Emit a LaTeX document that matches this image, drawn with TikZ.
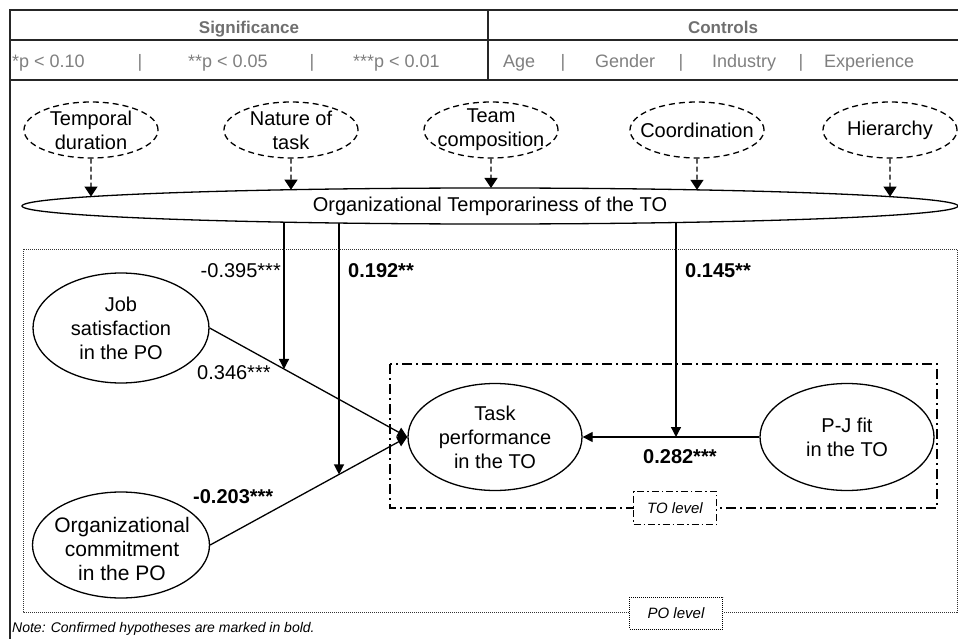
\documentclass[tikz,border=0pt]{standalone}
\usepackage{fontspec}
\setmainfont{Liberation Sans}
\usetikzlibrary{arrows.meta,shapes.geometric,intersections,backgrounds,calc}
\definecolor{tgray}{HTML}{7F7F7F}
\definecolor{hgray}{HTML}{6F6F6F}
\begin{document}
\begin{tikzpicture}[x=1pt,y=-1pt,
  every node/.style={font=\fontsize{20}{24}\selectfont, inner sep=0pt},
  ell/.style={draw, ellipse, line width=1.3pt, fill=white, align=center},
  dell/.style={draw, ellipse, line width=1.3pt, dash pattern=on 6pt off 4pt, minimum width=134, minimum height=56},
  eltxt/.style={align=center},
  arr/.style={-{Triangle[length=10pt,width=10pt]}, line width=1.3pt},
  darr/.style={-{Triangle[length=10pt,width=13pt]}, line width=1.3pt, dash pattern=on 5pt off 3pt},
  ttxt/.style={font=\fontsize{18}{20}\selectfont, text=tgray, anchor=base west},
  bar/.style={font=\fontsize{18}{20}\selectfont, text=tgray, anchor=base},
  htxt/.style={font=\bfseries\fontsize{17}{20}\selectfont, text=hgray, anchor=base},
  coef/.style={anchor=base west},
  bcoef/.style={anchor=base west, font=\bfseries\fontsize{20}{24}\selectfont},
  frame/.style={line width=2pt, draw=black!85},
  lvl/.style={draw, fill=white, font=\itshape\fontsize{15}{18}\selectfont, minimum width=85, minimum height=32}
]
\useasboundingbox (0,0) rectangle (958,639);

% ---- table frame ----
\draw[frame] (10,639) -- (10,10) -- (958,10);
\draw[line width=1.5pt, draw=black!85] (10,40) -- (958,40);
\draw[frame] (10,80) -- (958,80);
\draw[line width=2pt, draw=black!85] (488,10) -- (488,80);

\node[htxt] (hsig) at (249,34) {Significance};
\node[htxt] (hctl) at (723,34) {Controls};

\node[ttxt] (s1) at (12,68) {*p < 0.10};
\node[bar] (b1) at (140,68) {|};
\node[ttxt] (s2) at (188,68) {**p < 0.05};
\node[bar] (b2) at (312,68) {|};
\node[ttxt] (s3) at (353,68) {***p < 0.01};

\node[ttxt] (c1) at (503,68) {Age};
\node[bar] (b3) at (563,68) {|};
\node[ttxt] (c2) at (595,68) {Gender};
\node[bar] (b4) at (681,68) {|};
\node[ttxt] (c3) at (712,68) {Industry};
\node[bar] (b5) at (801,68) {|};
\node[ttxt] (c4) at (824,68) {Experience};

% ---- antecedent ellipses ----
\node[dell] (td) at (91,130) {};
\node[eltxt] (tdt) at (td) {Temporal\\duration};
\node[dell] (nt) at (291,130) {};
\node[eltxt] (ntt) at (nt) {Nature of\\task};
\node[dell] (tc) at (491,130) {};
\node[eltxt] (tct) at (tc) {Team\\composition};
\node[dell] (co) at (697,130) {};
\node[eltxt] (cot) at (co) {Coordination};
\node[dell] (hi) at (890,130) {};
\node[eltxt] (hit) at (hi) {Hierarchy};

\node[ell, name path=bigE, minimum width=936, minimum height=36] (big) at (490,206) {Organizational Temporariness of the TO};

\path[name path=dpa] (td.south) -- ++(0,80);
\path[name path=dpb] (nt.south) -- ++(0,80);
\path[name path=dpc] (tc.south) -- ++(0,80);
\path[name path=dpd] (co.south) -- ++(0,80);
\path[name path=dpe] (hi.south) -- ++(0,80);
\path[name intersections={of=dpa and bigE, by={dea}}];
\path[name intersections={of=dpb and bigE, by={deb}}];
\path[name intersections={of=dpc and bigE, by={dec}}];
\path[name intersections={of=dpd and bigE, by={ded}}];
\path[name intersections={of=dpe and bigE, by={dee}}];
\draw[darr] (td.south) -- (dea);
\draw[darr] (nt.south) -- (deb);
\draw[darr] (tc.south) -- (dec);
\draw[darr] (co.south) -- (ded);
\draw[darr] (hi.south) -- (dee);

% ---- level boxes ----
\draw[line width=1pt, draw=black!80, dash pattern=on 1pt off 1pt] (23,249) rectangle (957,612);
\draw[line width=1.3pt, dash pattern=on 10pt off 4pt on 2pt off 4pt] (390,364) rectangle (937,508);

% ---- construct ellipses ----
\node[ell, minimum width=176, minimum height=110] (job) at (121,328) {Job\\satisfaction\\in the PO};
\node[ell, minimum width=177, minimum height=106] (org) at (121,545) {};
\node[eltxt, font=\fontsize{21}{24}\selectfont] (orgt) at (122,549) {Organizational\\commitment\\in the PO};
\node[ell, minimum width=174, minimum height=107] (task) at (495,437) {Task\\performance\\in the TO};
\node[ell, minimum width=174, minimum height=107] (pj) at (847,437) {P-J fit\\in the TO};

\draw[arr, name path=jt] (job.east) -- (task.west);
\draw[arr, name path=ot] (org.east) -- (task.west);
\draw[arr] (pj) -- (task);

\path[name path=vone] (284,150) -- (284,600);
\path[name path=vtwo] (339,150) -- (339,600);
\path[name intersections={of=jt and vone, by={ma}}];
\path[name intersections={of=ot and vtwo, by={mb}}];
\coordinate (xc) at (676,0);
\coordinate (mc) at (task.east -| xc);

\begin{scope}[on background layer]
  \draw[arr] (big.center -| ma) -- (ma);
  \draw[arr] (big.center -| mb) -- (mb);
  \draw[arr] (big.center -| mc) -- (mc);
\end{scope}

% ---- coefficients ----
\node[coef, anchor=base east] (k1) at (281,277) {-0.395***};
\node[bcoef] (k2) at (348,277) {0.192**};
\node[bcoef] (k3) at (685,277) {0.145**};
\node[coef] (k4) at (197,379) {0.346***};
\node[bcoef] (k5) at (193,503) {-0.203***};
\node[bcoef] (k6) at (643,463) {0.282***};

% ---- level labels ----
\node[lvl, line width=1.3pt, dash pattern=on 7pt off 3pt on 1.5pt off 3pt, minimum width=83, minimum height=33] (tol) at (675,508) {TO level};
\node[lvl, line width=1pt, dash pattern=on 1pt off 1pt, minimum width=93, minimum height=32] (pol) at (676,613) {PO level};

\node[anchor=base west, font=\itshape\fontsize{14}{16}\selectfont] (note) at (12,632) {Note: Confirmed hypotheses are marked in bold.};
\end{tikzpicture}
\end{document}
